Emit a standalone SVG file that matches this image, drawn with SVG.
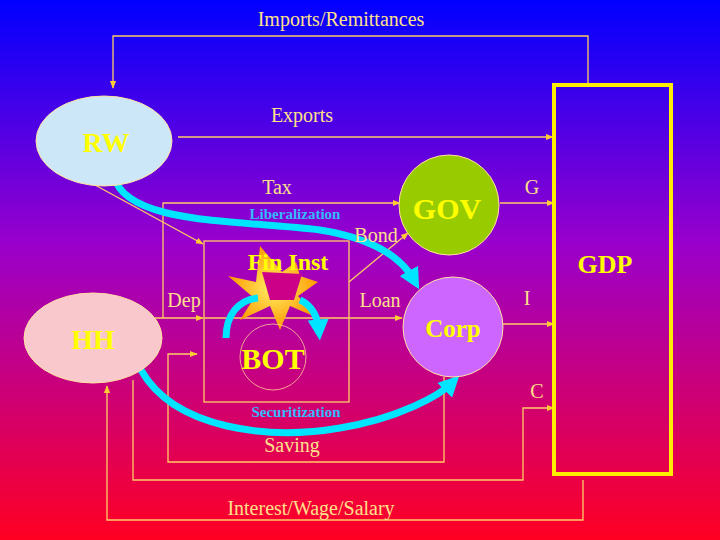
<svg xmlns="http://www.w3.org/2000/svg" width="720" height="540" viewBox="0 0 720 540">
<defs>
<linearGradient id="bg" x1="0" y1="0" x2="0" y2="1">
<stop offset="0" stop-color="#0000ff"/><stop offset="0.45" stop-color="#9900cc"/><stop offset="1" stop-color="#ff0022"/>
</linearGradient>
<radialGradient id="star" cx="0.5" cy="0.5" r="0.5">
<stop offset="0" stop-color="#fff066"/><stop offset="1" stop-color="#ff9900"/>
</radialGradient>
<marker id="a" viewBox="0 0 10 10" refX="9" refY="5" markerWidth="6" markerHeight="6" orient="auto"><path d="M0,1 L10,5 L0,9 z" fill="#ffcc33"/></marker>
<marker id="c" viewBox="0 0 10 10" refX="5" refY="5" markerWidth="3" markerHeight="3" orient="auto" markerUnits="strokeWidth"><path d="M0,0 L10,5 L0,10 z" fill="#00e5ff"/></marker>
<style>
.l{fill:none;stroke:#ffcc66;stroke-width:1.3}
.t{font-family:"Liberation Serif",serif;font-size:20px;fill:#ffe08a;text-anchor:middle}
.b{font-family:"Liberation Serif",serif;font-weight:bold;fill:#ffff00;text-anchor:middle}
.s{font-family:"Liberation Serif",serif;font-weight:bold;font-size:15px;fill:#33bbff;text-anchor:middle}
.cy{fill:none;stroke:#00e5ff;stroke-width:7}
</style>
</defs>
<rect width="720" height="540" fill="url(#bg)"/>
<g id="connectors">
<path class="l" d="M588,85 V36 H113 V88" marker-end="url(#a)"/>
<path class="l" d="M178,137 H553" marker-end="url(#a)"/>
<path class="l" d="M163,318 V203 H400" marker-end="url(#a)"/>
<path class="l" d="M155,318 H203" marker-end="url(#a)"/>
<path class="l" d="M204,318 H402" marker-end="url(#a)"/>
<path class="l" d="M349,282 L408,233" marker-end="url(#a)"/>
<path class="l" d="M95,185 L203,244" marker-end="url(#a)"/>
<path class="l" d="M500,203 H554" marker-end="url(#a)"/>
<path class="l" d="M503,324 H554" marker-end="url(#a)"/>
<path class="l" d="M133,380 V480 H523 V408 H554" marker-end="url(#a)"/>
<path class="l" d="M444,377 V462 H168 V354 H197" marker-end="url(#a)"/>
<path class="l" d="M583,480 V520 H107 V386" marker-end="url(#a)"/>
<path class="cy" d="M114,176 C125,225 240,220 320,230 C370,238 400,255 414,280" marker-end="url(#c)"/>
<path class="cy" d="M141,370 C175,430 270,440 340,428 C400,418 440,395 452,383" marker-end="url(#c)"/>
</g>
<g id="GDP"><rect x="554" y="85" width="117" height="389" fill="none" stroke="#ffee00" stroke-width="4"/><text class="b" x="605" y="273" font-size="26">GDP</text></g>
<g id="RW"><ellipse cx="104" cy="141" rx="68" ry="45" fill="#cce8f8" stroke="#ffe0a0"/><text class="b" x="106" y="152" font-size="28">RW</text></g>
<g id="HH"><ellipse cx="93" cy="338" rx="69" ry="45" fill="#f8c8cc" stroke="#ffe0a0"/><text class="b" x="93" y="349" font-size="28">HH</text></g>
<g id="GOV"><circle cx="449" cy="205" r="50" fill="#99cc00" stroke="#ffe0a0"/><text class="b" x="447" y="219" font-size="30">GOV</text></g>
<g id="Corp"><circle cx="453" cy="327" r="50" fill="#cc66ff" stroke="#ffe0a0"/><text class="b" x="453" y="337" font-size="25">Corp</text></g>
<g id="FinInst">
<rect x="204" y="241" width="145" height="161" fill="none" stroke="#ffcc66" stroke-width="1.3"/>
<polygon points="260,246 282,272 296,262 300,276 318,282 298,296 318,318 290,306 280,330 270,306 240,320 254,298 228,276 256,282" fill="url(#star)"/>
<polygon points="262,272 302,274 294,300 270,300" fill="#cc0088"/>
<path class="cy" d="M226,338 C226,315 238,300 258,298" stroke-width="9"/>
<path class="cy" d="M300,300 C312,305 318,318 319,330" stroke-width="8" marker-end="url(#c)"/>
<circle cx="273" cy="357" r="33" fill="none" stroke="#ffcc99" stroke-width="0.8"/>
<text class="b" x="273" y="369" font-size="30">BOT</text>
<text class="b" x="288" y="270" font-size="24">Fin Inst</text>
</g>
<g id="labels">
<text class="t" x="341" y="26">Imports/Remittances</text>
<text class="t" x="302" y="122">Exports</text>
<text class="t" x="277" y="194">Tax</text>
<text class="t" x="376" y="242">Bond</text>
<text class="t" x="184" y="307">Dep</text>
<text class="t" x="380" y="307">Loan</text>
<text class="t" x="532" y="194">G</text>
<text class="t" x="527" y="305">I</text>
<text class="t" x="537" y="398">C</text>
<text class="t" x="292" y="452">Saving</text>
<text class="t" x="311" y="515">Interest/Wage/Salary</text>
<text class="s" x="295" y="219">Liberalization</text>
<text class="s" x="296" y="417">Securitization</text>
</g>
</svg>
